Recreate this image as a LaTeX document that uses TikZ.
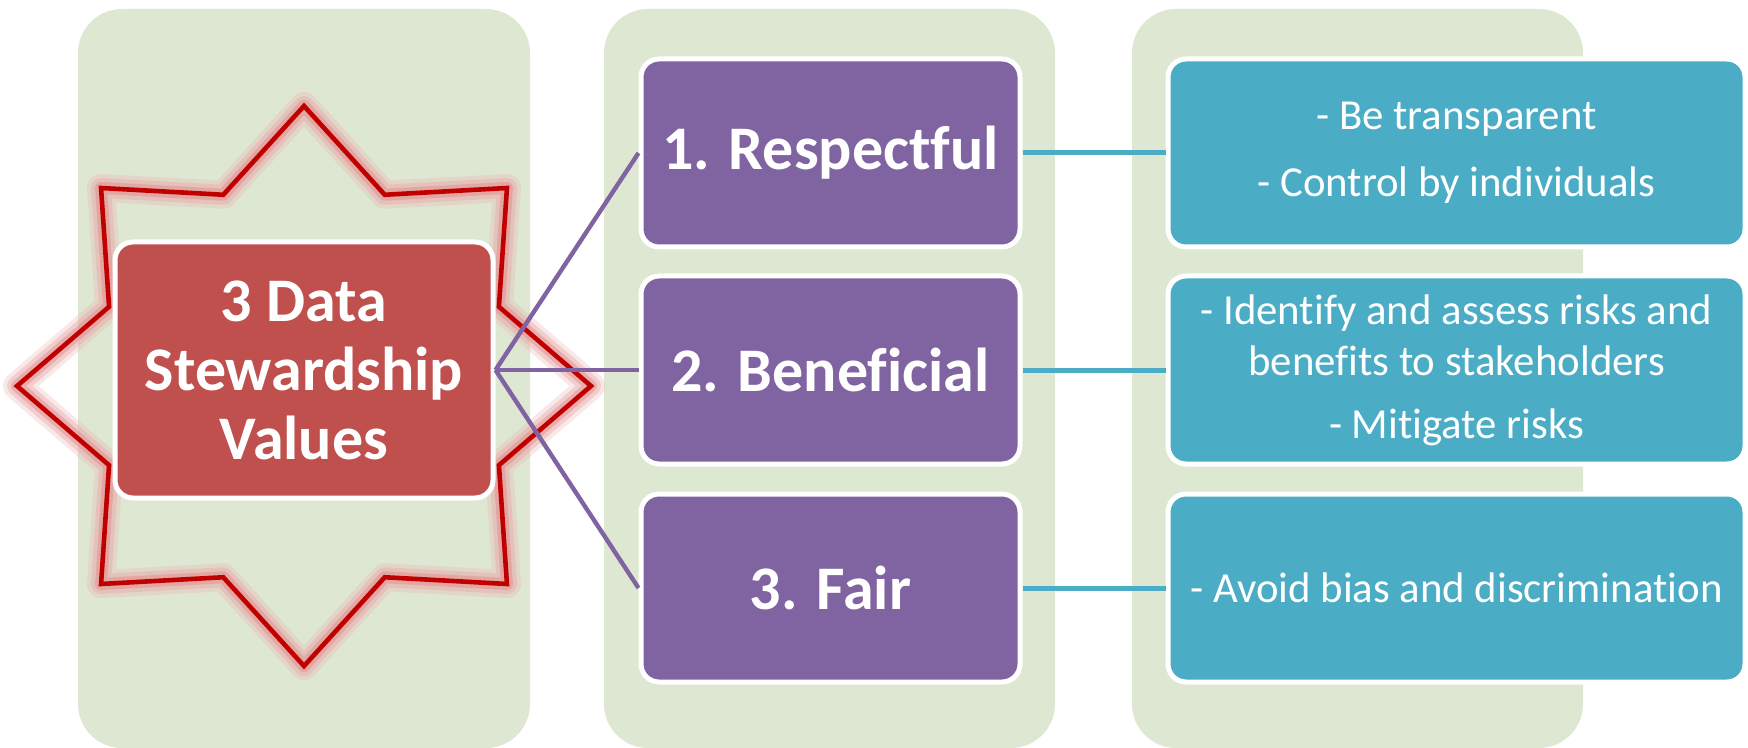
\documentclass[tikz,border=0pt]{standalone}
\usepackage{fontspec}
\setmainfont[Ligatures={NoCommon,NoRare}]{Carlito}
\usepackage{tikz}
\definecolor{panelgreen}{HTML}{DEE7D2}
\definecolor{valuered}{HTML}{C0504D}
\definecolor{starred}{HTML}{C00000}
\definecolor{stepviolet}{HTML}{8064A2}
\definecolor{notecyan}{HTML}{4BACC6}
\tikzset{
panel/.style={fill=panelgreen, rounded corners=22pt}, % the three pale columns
valuebox/.style={draw=white, line width=2.5pt, fill=#1, rounded corners=9pt,
  text=white, align=center, inner sep=0pt},
bigtext/.style={font=\fontsize{31}{34.5}\selectfont\bfseries},
notetext/.style={font=\fontsize{21.4}{25.5}\selectfont},
starline/.style={draw=starred, line width=2.3pt, line join=miter,
  preaction={draw=starred!30, line width=14pt, opacity=0.3, line join=round},
  preaction={draw=starred!35, line width=10pt, opacity=0.4, line join=round},
  preaction={draw=starred!45, line width=6pt, opacity=0.5, line join=round}},
violetlink/.style={draw=stepviolet, line width=2.2pt},
cyanlink/.style={draw=notecyan, line width=2.5pt},
}

\begin{document}
\begin{tikzpicture}[x=0.5pt,y=0.5pt,yscale=-1,xscale=1]
\useasboundingbox (0,0) rectangle (1748,748);
%Columns
\fill[panel] (78,9) rectangle (530,748);
\fill[panel] (604,9) rectangle (1055,748);
\fill[panel] (1132,9) rectangle (1583,748);
%Star
\coordinate (starc) at (304,386);
\begin{scope}[shift={(starc)}]
\draw[starline] (0:287 and 280) \foreach \a in {0,45,...,315} { -- (\a+22.5:211 and 207) -- (\a+45:287 and 280) } -- cycle;
\end{scope}
%Boxes
\node[valuebox=valuered, bigtext, minimum width=189pt, minimum height=128pt] (values) at (304,370) {3 Data\\Stewardship\\Values};
\node[valuebox=stepviolet, bigtext, minimum width=189.5pt, minimum height=94pt] (respectful) at (830.5,153) {1. Respectful};
\node[valuebox=stepviolet, bigtext, minimum width=189.5pt, minimum height=94pt] (beneficial) at (830.5,370) {2. Beneficial};
\node[valuebox=stepviolet, bigtext, minimum width=189.5pt, minimum height=94pt] (fair) at (830.5,588) {3. Fair};
\node[valuebox=notecyan, notetext, minimum width=288.5pt, minimum height=94pt] (transparent) at (1456.5,153) {- Be transparent\\[8pt]- Control by individuals};
\node[valuebox=notecyan, notetext, minimum width=288.5pt, minimum height=94pt] (risks) at (1456.5,370) {- Identify and assess risks and\\benefits to stakeholders\\[6pt]- Mitigate risks};
\node[valuebox=notecyan, notetext, minimum width=288.5pt, minimum height=94pt] (bias) at (1456.5,588) {- Avoid bias and discrimination};
%Links
\draw[violetlink] (values.east) -- (respectful.west);
\draw[violetlink] (values.east) -- (beneficial.west);
\draw[violetlink] (values.east) -- (fair.west);
\draw[cyanlink] (respectful.east) -- (transparent.west);
\draw[cyanlink] (beneficial.east) -- (risks.west);
\draw[cyanlink] (fair.east) -- (bias.west);
\end{tikzpicture}
\end{document}
